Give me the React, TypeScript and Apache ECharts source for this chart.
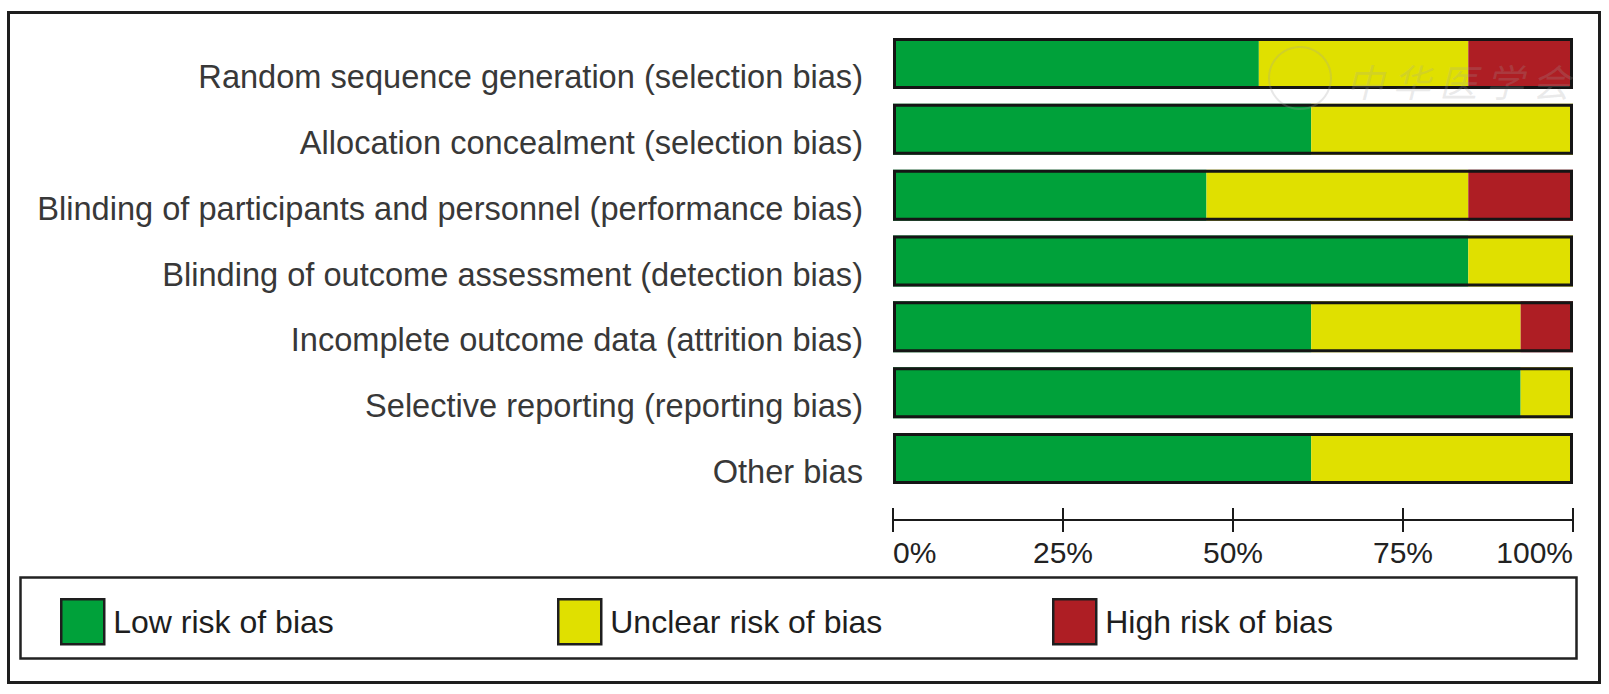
import React, { useEffect, useRef } from 'react';
import * as echarts from 'echarts';

// domains, top to bottom
const categories = [
  'Random sequence generation (selection bias)',
  'Allocation concealment (selection bias)',
  'Blinding of participants and personnel (performance bias)',
  'Blinding of outcome assessment (detection bias)',
  'Incomplete outcome data (attrition bias)',
  'Selective reporting (reporting bias)',
  'Other bias',
];

// percent of studies per judgement
const lowRisk = [53.8, 61.5, 46.1, 84.6, 61.5, 92.3, 61.5];
const unclearRisk = [30.8, 38.5, 38.5, 15.4, 30.8, 7.7, 38.5];
const highRisk = [15.4, 0, 15.4, 0, 7.7, 0, 0];

const seriesNames = ['Low risk of bias', 'Unclear risk of bias', 'High risk of bias'];
const seriesColors = ['#00a13a', '#e0e000', '#ae1e24'];

const FONT = '"Liberation Sans", Arial, sans-serif';

export default function App() {
  const chartRef = useRef<HTMLDivElement>(null);

  useEffect(() => {
    if (!chartRef.current) return;
    const chart = echarts.init(chartRef.current, null, { renderer: 'svg' });

    const totals = lowRisk.map((v, i) => v + unclearRisk[i] + highRisk[i]);
    const stacked = [lowRisk, unclearRisk, highRisk].map((data, i) => ({
      name: seriesNames[i],
      type: 'bar',
      stack: 'risk',
      data,
      barWidth: 51,
      itemStyle: { color: seriesColors[i] },
      z: 2,
    }));

    const legendLefts = [60, 557, 1052];

    const option = {
      animation: false,
      grid: { left: 893, width: 680, top: 30.6, height: 460.8 },
      xAxis: [
        {
          type: 'value',
          min: 0,
          max: 100,
          interval: 25,
          position: 'bottom',
          offset: 28.6,
          splitLine: { show: false },
          axisLine: { show: true, lineStyle: { color: '#1a1a1a', width: 2 } },
          axisTick: { show: true, length: 12, lineStyle: { color: '#1a1a1a', width: 2 } },
          axisLabel: {
            formatter: '{value}%',
            margin: 17,
            fontSize: 30,
            fontFamily: FONT,
            color: '#222',
            alignMinLabel: 'left',
            alignMaxLabel: 'right',
          },
        },
        {
          type: 'value',
          min: 0,
          max: 100,
          interval: 25,
          position: 'bottom',
          offset: 28.6,
          splitLine: { show: false },
          axisLine: { show: true, lineStyle: { color: '#1a1a1a', width: 2 } },
          axisTick: { show: true, inside: true, length: 12, lineStyle: { color: '#1a1a1a', width: 2 } },
          axisLabel: { show: false },
        },
      ],
      yAxis: {
        type: 'category',
        data: categories,
        inverse: true,
        axisLine: { show: false },
        axisTick: { show: false },
        axisLabel: {
          margin: 30,
          fontSize: 32.6,
          fontFamily: FONT,
          color: '#383838',
          verticalAlign: 'top',
          lineHeight: 26,
        },
      },
      legend: legendLefts.map((left, i) => ({
        data: [seriesNames[i]],
        left,
        top: 598,
        padding: 0,
        itemWidth: 43,
        itemHeight: 45,
        icon: 'rect',
        selectedMode: false,
        itemStyle: { borderColor: '#1e1e1e', borderWidth: 2.5 },
        textStyle: { fontSize: 32, fontFamily: FONT, color: '#1e1e1e', padding: [0, 0, 0, 4] },
      })),
      graphic: [
        {
          type: 'rect',
          shape: { x: 8.5, y: 12.5, width: 1591, height: 670 },
          style: { fill: 'none', stroke: '#1e1e1e', lineWidth: 3 },
          silent: true,
        },
        {
          type: 'rect',
          shape: { x: 20.5, y: 577.5, width: 1556, height: 81 },
          style: { fill: 'none', stroke: '#222', lineWidth: 2.5 },
          silent: true,
        },
        {
          type: 'circle',
          shape: { cx: 1300, cy: 78, r: 31 },
          style: { fill: 'none', stroke: 'rgba(160,160,160,0.25)', lineWidth: 2 },
          z: 100,
          silent: true,
        },
        {
          type: 'text',
          x: 1346,
          y: 80,
          style: {
            text: '中 华 医 学 会',
            font: 'italic 38px "Noto Sans CJK SC"',
            fill: 'rgba(160,160,160,0.22)',
            verticalAlign: 'middle',
          },
          z: 100,
          silent: true,
        },
      ],
      series: [
        ...stacked,
        {
          name: 'outline',
          type: 'bar',
          data: totals,
          barWidth: 51,
          barGap: '-100%',
          itemStyle: { color: 'rgba(0,0,0,0)', borderColor: '#151515', borderWidth: 3 },
          z: 3,
          silent: true,
        },
      ],
    };

    chart.setOption(option as any);
    return () => chart.dispose();
  }, []);

  return (
    <div
      ref={chartRef}
      style={{ position: 'fixed', left: 0, top: 0, width: '1609px', height: '694px', background: '#fff' }}
    />
  );
}
